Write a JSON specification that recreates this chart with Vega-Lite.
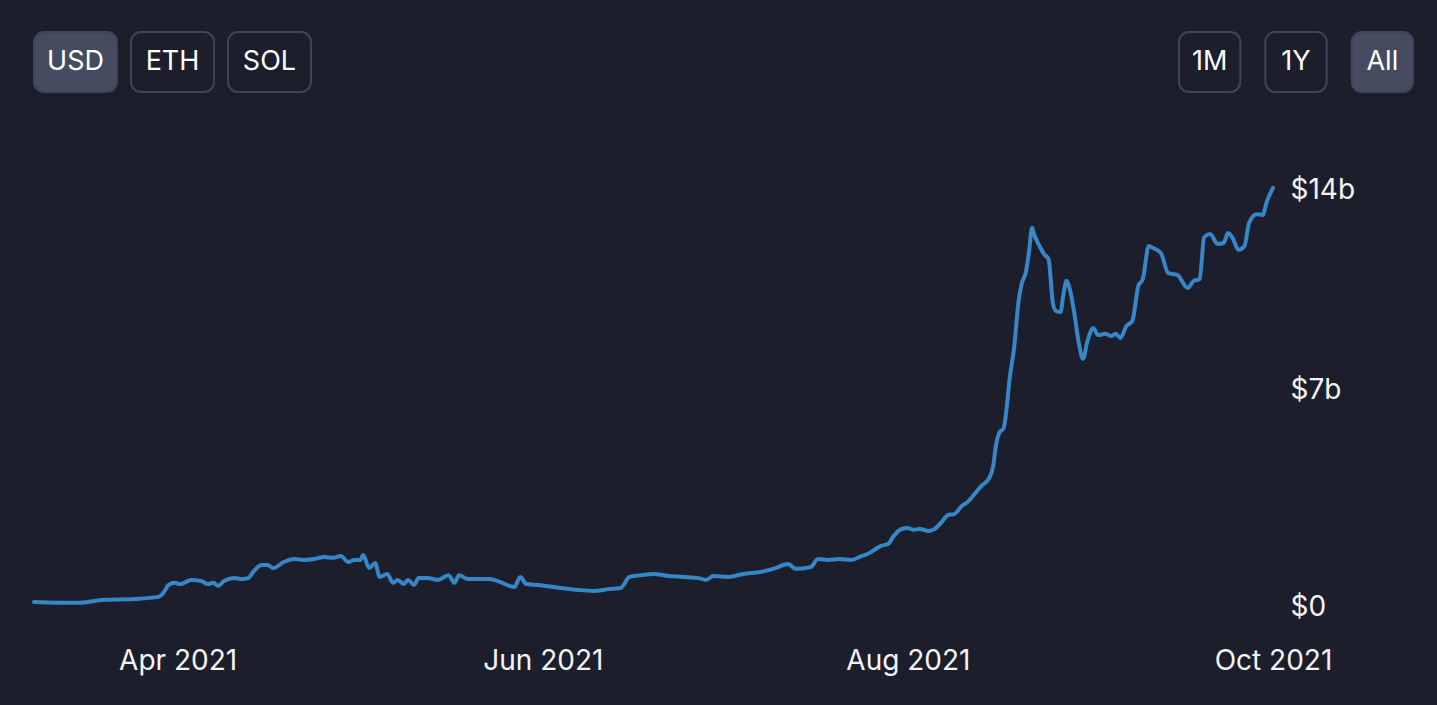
{
  "$schema": "https://vega.github.io/schema/vega-lite/v6.json",
  "background": "#1c1e2c",
  "padding": {"left": 32, "top": 31, "right": 25, "bottom": 46},
  "config": {
    "view": {"stroke": null},
    "font": "Inter",
    "axis": {"labelFont": "Inter"},
    "concat": {"spacing": 83}
  },
  "vconcat": [
    {
      "bounds": "flush",
      "spacing": 868,
      "hconcat": [
        {
          "width": 277,
          "height": 60,
          "data": {"values": [
            {"label": "USD", "selected": "yes"},
            {"label": "ETH", "selected": "no"},
            {"label": "SOL", "selected": "no"}
          ]},
          "encoding": {
            "x": {"field": "label", "type": "nominal", "sort": null, "scale": {"paddingInner": 0.144, "paddingOuter": 0}, "axis": null}
          },
          "layer": [
            {
              "mark": {"type": "rect", "cornerRadius": 10, "stroke": "#3d4558", "strokeWidth": 2},
              "encoding": {"fill": {"field": "selected", "type": "nominal", "scale": {"domain": ["yes", "no"], "range": ["#454c5f", "#1c1e2c"]}, "legend": null}}
            },
            {
              "mark": {"type": "text", "fontSize": 27, "color": "#ffffff", "font": "Inter"},
              "encoding": {"text": {"field": "label", "type": "nominal"}}
            }
          ]
        },
        {
          "width": 234,
          "height": 60,
          "data": {"values": [
            {"label": "1M", "selected": "no"},
            {"label": "1Y", "selected": "no"},
            {"label": "All", "selected": "yes"}
          ]},
          "encoding": {
            "x": {"field": "label", "type": "nominal", "sort": null, "scale": {"paddingInner": 0.29, "paddingOuter": 0}, "axis": null}
          },
          "layer": [
            {
              "mark": {"type": "rect", "cornerRadius": 10, "stroke": "#3d4558", "strokeWidth": 2},
              "encoding": {"fill": {"field": "selected", "type": "nominal", "scale": {"domain": ["yes", "no"], "range": ["#454c5f", "#1c1e2c"]}, "legend": null}}
            },
            {
              "mark": {"type": "text", "fontSize": 27, "color": "#ffffff", "font": "Inter"},
              "encoding": {"text": {"field": "label", "type": "nominal"}}
            }
          ]
        }
      ]
    },
    {
      "width": 1239,
      "height": 417,
      "data": {"values": [
        {"date": "2021-03-08T00:00", "tvl_bn": 0.17},
        {"date": "2021-03-15T06:00", "tvl_bn": 0.14},
        {"date": "2021-03-19T18:00", "tvl_bn": 0.24},
        {"date": "2021-03-24T18:00", "tvl_bn": 0.27},
        {"date": "2021-03-28T18:00", "tvl_bn": 0.34},
        {"date": "2021-03-29T12:00", "tvl_bn": 0.44},
        {"date": "2021-03-30T12:00", "tvl_bn": 0.74},
        {"date": "2021-03-31T12:00", "tvl_bn": 0.81},
        {"date": "2021-04-01T12:00", "tvl_bn": 0.77},
        {"date": "2021-04-03T06:00", "tvl_bn": 0.91},
        {"date": "2021-04-05T00:00", "tvl_bn": 0.87},
        {"date": "2021-04-06T00:00", "tvl_bn": 0.77},
        {"date": "2021-04-07T00:00", "tvl_bn": 0.81},
        {"date": "2021-04-07T18:00", "tvl_bn": 0.71},
        {"date": "2021-04-08T18:00", "tvl_bn": 0.87},
        {"date": "2021-04-10T12:00", "tvl_bn": 0.97},
        {"date": "2021-04-11T12:00", "tvl_bn": 0.94},
        {"date": "2021-04-12T18:00", "tvl_bn": 0.97},
        {"date": "2021-04-13T18:00", "tvl_bn": 1.21},
        {"date": "2021-04-15T00:00", "tvl_bn": 1.41},
        {"date": "2021-04-16T00:00", "tvl_bn": 1.41},
        {"date": "2021-04-17T00:00", "tvl_bn": 1.31},
        {"date": "2021-04-18T18:00", "tvl_bn": 1.51},
        {"date": "2021-04-20T12:00", "tvl_bn": 1.61},
        {"date": "2021-04-22T00:00", "tvl_bn": 1.58},
        {"date": "2021-04-23T18:00", "tvl_bn": 1.61},
        {"date": "2021-04-25T12:00", "tvl_bn": 1.68},
        {"date": "2021-04-27T00:00", "tvl_bn": 1.65},
        {"date": "2021-04-28T06:00", "tvl_bn": 1.71},
        {"date": "2021-04-29T12:00", "tvl_bn": 1.51},
        {"date": "2021-04-30T12:00", "tvl_bn": 1.58},
        {"date": "2021-05-01T12:00", "tvl_bn": 1.58},
        {"date": "2021-05-02T00:00", "tvl_bn": 1.75},
        {"date": "2021-05-03T00:00", "tvl_bn": 1.31},
        {"date": "2021-05-04T00:00", "tvl_bn": 1.48},
        {"date": "2021-05-04T18:00", "tvl_bn": 1.01},
        {"date": "2021-05-06T00:00", "tvl_bn": 1.11},
        {"date": "2021-05-07T00:00", "tvl_bn": 0.81},
        {"date": "2021-05-07T18:00", "tvl_bn": 0.91},
        {"date": "2021-05-08T18:00", "tvl_bn": 0.77},
        {"date": "2021-05-09T12:00", "tvl_bn": 0.91},
        {"date": "2021-05-10T12:00", "tvl_bn": 0.74},
        {"date": "2021-05-11T06:00", "tvl_bn": 0.97},
        {"date": "2021-05-12T18:00", "tvl_bn": 0.97},
        {"date": "2021-05-14T12:00", "tvl_bn": 0.91},
        {"date": "2021-05-16T06:00", "tvl_bn": 1.07},
        {"date": "2021-05-17T06:00", "tvl_bn": 0.81},
        {"date": "2021-05-18T00:00", "tvl_bn": 1.07},
        {"date": "2021-05-19T12:00", "tvl_bn": 0.94},
        {"date": "2021-05-23T00:00", "tvl_bn": 0.94},
        {"date": "2021-05-24T12:00", "tvl_bn": 0.87},
        {"date": "2021-05-27T06:00", "tvl_bn": 0.67},
        {"date": "2021-05-28T06:00", "tvl_bn": 1.01},
        {"date": "2021-05-29T06:00", "tvl_bn": 0.77},
        {"date": "2021-05-31T06:00", "tvl_bn": 0.74},
        {"date": "2021-06-04T00:00", "tvl_bn": 0.64},
        {"date": "2021-06-07T00:00", "tvl_bn": 0.57},
        {"date": "2021-06-09T12:00", "tvl_bn": 0.54},
        {"date": "2021-06-12T00:00", "tvl_bn": 0.60},
        {"date": "2021-06-14T00:00", "tvl_bn": 0.64},
        {"date": "2021-06-15T12:00", "tvl_bn": 1.01},
        {"date": "2021-06-17T12:00", "tvl_bn": 1.07},
        {"date": "2021-06-19T12:00", "tvl_bn": 1.11},
        {"date": "2021-06-22T00:00", "tvl_bn": 1.04},
        {"date": "2021-06-24T12:00", "tvl_bn": 1.01},
        {"date": "2021-06-27T00:00", "tvl_bn": 0.97},
        {"date": "2021-06-28T06:00", "tvl_bn": 0.91},
        {"date": "2021-06-29T12:00", "tvl_bn": 1.04},
        {"date": "2021-07-02T00:00", "tvl_bn": 1.01},
        {"date": "2021-07-04T12:00", "tvl_bn": 1.11},
        {"date": "2021-07-07T12:00", "tvl_bn": 1.18},
        {"date": "2021-07-09T12:00", "tvl_bn": 1.28},
        {"date": "2021-07-12T00:00", "tvl_bn": 1.44},
        {"date": "2021-07-13T06:00", "tvl_bn": 1.28},
        {"date": "2021-07-15T18:00", "tvl_bn": 1.34},
        {"date": "2021-07-17T00:00", "tvl_bn": 1.61},
        {"date": "2021-07-18T18:00", "tvl_bn": 1.58},
        {"date": "2021-07-20T12:00", "tvl_bn": 1.61},
        {"date": "2021-07-22T12:00", "tvl_bn": 1.58},
        {"date": "2021-07-24T06:00", "tvl_bn": 1.71},
        {"date": "2021-07-25T06:00", "tvl_bn": 1.78},
        {"date": "2021-07-27T12:00", "tvl_bn": 2.05},
        {"date": "2021-07-28T18:00", "tvl_bn": 2.12},
        {"date": "2021-07-29T12:00", "tvl_bn": 2.35},
        {"date": "2021-07-31T00:00", "tvl_bn": 2.62},
        {"date": "2021-08-01T00:00", "tvl_bn": 2.65},
        {"date": "2021-08-02T00:00", "tvl_bn": 2.59},
        {"date": "2021-08-03T00:00", "tvl_bn": 2.62},
        {"date": "2021-08-04T12:00", "tvl_bn": 2.55},
        {"date": "2021-08-05T12:00", "tvl_bn": 2.62},
        {"date": "2021-08-06T12:00", "tvl_bn": 2.82},
        {"date": "2021-08-07T18:00", "tvl_bn": 3.09},
        {"date": "2021-08-08T18:00", "tvl_bn": 3.12},
        {"date": "2021-08-10T00:00", "tvl_bn": 3.39},
        {"date": "2021-08-11T00:00", "tvl_bn": 3.53},
        {"date": "2021-08-12T00:00", "tvl_bn": 3.76},
        {"date": "2021-08-13T06:00", "tvl_bn": 4.06},
        {"date": "2021-08-14T12:00", "tvl_bn": 4.30},
        {"date": "2021-08-15T06:00", "tvl_bn": 4.73},
        {"date": "2021-08-15T18:00", "tvl_bn": 5.47},
        {"date": "2021-08-16T06:00", "tvl_bn": 5.84},
        {"date": "2021-08-17T00:00", "tvl_bn": 6.01},
        {"date": "2021-08-17T12:00", "tvl_bn": 6.68},
        {"date": "2021-08-18T00:00", "tvl_bn": 7.66},
        {"date": "2021-08-18T18:00", "tvl_bn": 8.70},
        {"date": "2021-08-19T12:00", "tvl_bn": 10.27},
        {"date": "2021-08-20T00:00", "tvl_bn": 10.84},
        {"date": "2021-08-20T18:00", "tvl_bn": 11.28},
        {"date": "2021-08-21T06:00", "tvl_bn": 11.95},
        {"date": "2021-08-21T18:00", "tvl_bn": 12.73},
        {"date": "2021-08-22T00:00", "tvl_bn": 12.56},
        {"date": "2021-08-23T00:00", "tvl_bn": 12.12},
        {"date": "2021-08-23T18:00", "tvl_bn": 11.85},
        {"date": "2021-08-24T12:00", "tvl_bn": 11.68},
        {"date": "2021-08-25T06:00", "tvl_bn": 10.17},
        {"date": "2021-08-25T18:00", "tvl_bn": 9.94},
        {"date": "2021-08-26T12:00", "tvl_bn": 9.90},
        {"date": "2021-08-27T00:00", "tvl_bn": 10.51},
        {"date": "2021-08-27T12:00", "tvl_bn": 10.95},
        {"date": "2021-08-28T00:00", "tvl_bn": 10.71},
        {"date": "2021-08-28T18:00", "tvl_bn": 9.94},
        {"date": "2021-08-29T12:00", "tvl_bn": 8.93},
        {"date": "2021-08-30T06:00", "tvl_bn": 8.33},
        {"date": "2021-08-31T00:00", "tvl_bn": 8.93},
        {"date": "2021-09-01T00:00", "tvl_bn": 9.37},
        {"date": "2021-09-01T18:00", "tvl_bn": 9.13},
        {"date": "2021-09-03T00:00", "tvl_bn": 9.17},
        {"date": "2021-09-04T00:00", "tvl_bn": 9.10},
        {"date": "2021-09-04T18:00", "tvl_bn": 9.17},
        {"date": "2021-09-05T12:00", "tvl_bn": 9.03},
        {"date": "2021-09-06T12:00", "tvl_bn": 9.43},
        {"date": "2021-09-07T12:00", "tvl_bn": 9.60},
        {"date": "2021-09-08T12:00", "tvl_bn": 10.78},
        {"date": "2021-09-09T06:00", "tvl_bn": 11.01},
        {"date": "2021-09-10T06:00", "tvl_bn": 12.12},
        {"date": "2021-09-11T00:00", "tvl_bn": 12.05},
        {"date": "2021-09-12T06:00", "tvl_bn": 11.89},
        {"date": "2021-09-13T12:00", "tvl_bn": 11.21},
        {"date": "2021-09-15T00:00", "tvl_bn": 11.15},
        {"date": "2021-09-16T18:00", "tvl_bn": 10.71},
        {"date": "2021-09-17T18:00", "tvl_bn": 10.95},
        {"date": "2021-09-18T18:00", "tvl_bn": 11.01},
        {"date": "2021-09-19T12:00", "tvl_bn": 12.42},
        {"date": "2021-09-20T12:00", "tvl_bn": 12.52},
        {"date": "2021-09-21T18:00", "tvl_bn": 12.19},
        {"date": "2021-09-22T18:00", "tvl_bn": 12.22},
        {"date": "2021-09-23T12:00", "tvl_bn": 12.56},
        {"date": "2021-09-24T06:00", "tvl_bn": 12.39},
        {"date": "2021-09-25T06:00", "tvl_bn": 11.99},
        {"date": "2021-09-26T06:00", "tvl_bn": 12.12},
        {"date": "2021-09-27T00:00", "tvl_bn": 12.89},
        {"date": "2021-09-28T06:00", "tvl_bn": 13.19},
        {"date": "2021-09-29T06:00", "tvl_bn": 13.16},
        {"date": "2021-09-30T00:00", "tvl_bn": 13.63},
        {"date": "2021-10-01T00:00", "tvl_bn": 14.07}
      ]},
      "mark": {"type": "line", "color": "#3787c8", "strokeWidth": 4, "interpolate": "monotone", "strokeCap": "round", "strokeJoin": "round", "clip": false},
      "encoding": {
        "x": {
          "field": "date",
          "type": "temporal",
          "scale": {"domain": [{"year": 2021, "month": 3, "date": 8}, {"year": 2021, "month": 10, "date": 1}], "nice": false},
          "axis": {
            "title": null,
            "orient": "bottom",
            "values": [
              {"year": 2021, "month": 4, "date": 1},
              {"year": 2021, "month": 6, "date": 1},
              {"year": 2021, "month": 8, "date": 1},
              {"year": 2021, "month": 10, "date": 1}
            ],
            "format": "%b %Y",
            "domain": false,
            "ticks": false,
            "grid": false,
            "labelPadding": 54,
            "labelBaseline": "middle",
            "labelFontSize": 28,
            "labelColor": "#f4f4f6",
            "labelFlush": false,
            "labelOverlap": false,
            "labelBound": false
          }
        },
        "y": {
          "field": "tvl_bn",
          "type": "quantitative",
          "scale": {"domain": [0, 14], "nice": false, "zero": true},
          "axis": {
            "title": null,
            "orient": "right",
            "values": [0, 7, 14],
            "labelExpr": "datum.value == 0 ? '$0' : '$' + datum.value + 'b'",
            "domain": false,
            "ticks": false,
            "grid": false,
            "labelPadding": 17,
            "labelAlign": "left",
            "labelBaseline": "middle",
            "labelFontSize": 28,
            "labelColor": "#f4f4f6",
            "labelOffset": {"condition": {"test": "datum.value == 7", "value": -8}, "value": 0},
            "labelOverlap": false,
            "labelBound": false,
            "labelFlush": false
          }
        }
      }
    }
  ]
}
